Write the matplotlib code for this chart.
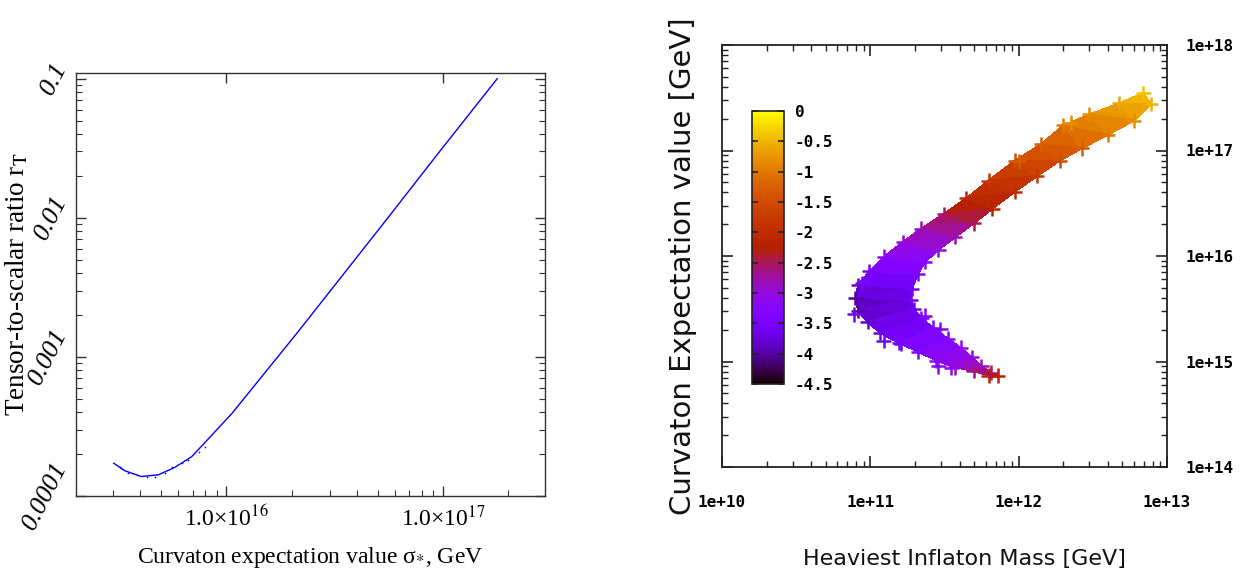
import numpy as np
import matplotlib
matplotlib.use("Agg")
import matplotlib.pyplot as plt
from matplotlib.tri import Triangulation

# ---- left panel: tensor-to-scalar ratio vs curvaton vev ----
sigma_line = [3.02e15, 3.39e15, 4.05e15, 4.85e15, 5.79e15, 6.92e15, 8.3e15,
              1.06e16, 2.13e16, 3.47e16, 5.65e16, 9.64e16, 1.78e17]
r_line = [1.72e-4, 1.52e-4, 1.38e-4, 1.42e-4, 1.61e-4, 1.92e-4, 2.6e-4,
          3.92e-4, 1.50e-3, 3.93e-3, 0.0103, 0.0299, 0.1]
sigma_dots = [3.21e15, 3.27e15, 3.52e15, 3.85e15, 4.28e15, 4.68e15, 5.2e15,
              5.59e15, 6.22e15, 6.68e15, 7.44e15, 7.98e15]
r_dots = [1.61e-4, 1.58e-4, 1.46e-4, 1.42e-4, 1.36e-4, 1.38e-4, 1.46e-4,
          1.61e-4, 1.72e-4, 1.82e-4, 2.08e-4, 2.26e-4]

left_yticks = [1e-4, 1e-3, 1e-2, 1e-1]
left_ylabels = ["0.0001", "0.001", "0.01", "0.1"]
left_xticks = [1e16, 1e17]
left_xlabels = [r"1.0×10$^{16}$", r"1.0×10$^{17}$"]

# ---- right panel: curvaton vev vs heaviest inflaton mass, colour = log value ----
mass_outer = [6.93e12, 4.76e12, 3.00e12, 2.00e12, 1.41e12, 9.42e11, 6.28e11, 4.44e11,
              3.13e11, 2.21e11, 1.66e11, 1.24e11, 9.84e10, 8.28e10, 7.91e10, 8.28e10,
              9.57e10, 1.17e11, 1.56e11, 2.09e11, 2.79e11, 3.73e11, 4.98e11, 6.28e11]
vev_outer = [3.51e17, 2.80e17, 2.20e17, 1.73e17, 1.14e17, 8.02e16, 5.19e16, 3.52e16,
             2.51e16, 1.82e16, 1.36e16, 9.86e15, 7.14e15, 5.31e15, 4.00e15, 3.02e15,
             2.37e15, 1.86e15, 1.50e15, 1.24e15, 1.02e15, 8.79e14, 8.11e14, 7.36e14]
val_outer = [-0.4, -0.6, -0.8, -1.0, -1.3, -1.5, -1.8, -2.1, -2.5, -2.8, -3.0, -3.2,
             -3.5, -3.8, -4.0, -4.0, -3.8, -3.7, -3.5, -3.4, -3.2, -3.0, -2.6, -2.2]

mass_inner = [7.80e12, 6.00e12, 4.00e12, 2.67e12, 1.89e12, 1.33e12, 9.42e11, 6.65e11,
              4.98e11, 3.73e11, 2.87e11, 2.34e11, 2.09e11, 1.91e11, 1.88e11, 1.97e11,
              2.21e11, 2.64e11, 3.32e11, 4.06e11, 4.84e11, 5.60e11, 6.46e11, 7.26e11]
vev_inner = [2.75e17, 1.92e17, 1.41e17, 1.05e17, 8.02e16, 5.71e16, 4.07e16, 2.81e16,
             2.04e16, 1.51e16, 1.14e16, 8.81e15, 6.76e15, 4.90e15, 3.85e15, 3.14e15,
             2.57e15, 2.10e15, 1.65e15, 1.35e15, 1.10e15, 9.02e14, 7.85e14, 7.36e14]
val_inner = [-0.5, -0.8, -1.0, -1.3, -1.5, -1.8, -2.0, -2.2, -2.5, -2.8, -3.0, -3.2,
             -3.3, -3.5, -3.6, -3.6, -3.5, -3.4, -3.3, -3.1, -3.0, -2.8, -2.5, -2.2]

mass_stray = [7.8e10, 8.77e10, 1.23e11, 1.61e11, 2.87e11, 3.52e11, 2.34e11, 2.96e11,
              9.98e11, 2.24e12]
vev_stray = [2.79e15, 5.52e15, 1.58e15, 1.46e15, 9.02e14, 8.65e14, 2.72e15, 2.02e15,
             7.9e16, 1.84e17]
val_stray = [-3.5, -3.4, -3.6, -3.5, -3.2, -3.1, -3.3, -3.3, -1.3, -0.8]

right_xticks = [1e10, 1e11, 1e12, 1e13]
right_xlabels = ["1e+10", "1e+11", "1e+12", "1e+13"]
right_yticks = [1e14, 1e15, 1e16, 1e17, 1e18]
right_ylabels = ["1e+14", "1e+15", "1e+16", "1e+17", "1e+18"]
cbar_ticks = [0, -0.5, -1, -1.5, -2, -2.5, -3, -3.5, -4, -4.5]
cbar_labels = ["0", "-0.5", "-1", "-1.5", "-2", "-2.5", "-3", "-3.5", "-4", "-4.5"]

plt.rcParams["mathtext.fontset"] = "stix"
W, H = 1245, 579
fig = plt.figure(figsize=(W / 100, H / 100), dpi=100)

def frac(x0, y0, x1, y1):
    return [x0 / W, 1 - y1 / H, (x1 - x0) / W, (y1 - y0) / H]

# ================= left =================
serif = "Liberation Serif"
ax1 = fig.add_axes(frac(76, 73, 545, 496))
ax1.set_xscale("log")
ax1.set_yscale("log")
ax1.plot(sigma_line, r_line, color="#0000ff", lw=1.0)
ax1.scatter(sigma_dots, r_dots, color="#0000ff", s=1.5, lw=0)
ax1.set_xlim(2.02e15, 2.96e17)
ax1.set_ylim(1e-4, 0.11)
for sp in ax1.spines.values():
    sp.set_color("#333333")
    sp.set_linewidth(1.0)
ax1.tick_params(which="both", direction="in", top=True, right=True, color="#333333")
ax1.tick_params(which="major", length=7, width=1)
ax1.tick_params(which="minor", length=4, width=0.8)
ax1.tick_params(axis="x", which="minor", top=False)
ax1.set_yticks(left_yticks, left_ylabels)
ax1.set_xticks(left_xticks, left_xlabels)
ax1.yaxis.set_minor_formatter(plt.NullFormatter())
ax1.xaxis.set_minor_formatter(plt.NullFormatter())
for lbl in ax1.get_yticklabels():
    lbl.set_rotation(63)
    lbl.set_ha("right")
    lbl.set_va("center")
    lbl.set_fontfamily(serif)
    lbl.set_fontstyle("italic")
    lbl.set_fontsize(19)
for lbl in ax1.get_xticklabels():
    lbl.set_fontfamily(serif)
    lbl.set_fontsize(17)
ax1.tick_params(axis="y", pad=3)
ax1.tick_params(axis="x", pad=7)
fig.text(17 / W, 0.51, r"Tensor-to-scalar ratio r$_{\mathrm{T}}$", rotation=90,
         ha="center", va="center", family=serif, fontsize=19.5)
fig.text(310 / W, 1 - 563 / H, r"Curvaton expectation value σ$_{*}$, GeV",
         ha="center", va="baseline", family=serif, fontsize=17)

# ================= right =================
mono = {"family": "DejaVu Sans Mono", "weight": "bold", "size": 11.5}
ax2 = fig.add_axes(frac(722, 45, 1167, 467))
ax2.set_xscale("log")
ax2.set_yscale("log")
n = len(mass_outer)
tris = [[i, i + 1, n + i] for i in range(n - 1)] + \
       [[i + 1, n + i + 1, n + i] for i in range(n - 1)]
band = Triangulation(mass_outer + mass_inner, vev_outer + vev_inner, tris)
mesh = ax2.tripcolor(band, val_outer + val_inner, cmap="gnuplot", vmin=-4.5, vmax=0,
                     shading="flat", edgecolors="face", linewidth=0.6,
                     antialiased=False)
ax2.scatter(mass_outer + mass_inner + mass_stray, vev_outer + vev_inner + vev_stray,
            c=val_outer + val_inner + val_stray, cmap="gnuplot", vmin=-4.5, vmax=0,
            marker="+", s=110, linewidths=1.8)
ax2.set_xlim(1e10, 1e13)
ax2.set_ylim(1e14, 1e18)
for sp in ax2.spines.values():
    sp.set_color("#222222")
    sp.set_linewidth(1.3)
ax2.tick_params(which="both", direction="in", top=True, right=True, left=True,
                labelleft=False, labelright=True, color="#222222")
ax2.tick_params(which="major", length=8, width=1.2)
ax2.tick_params(which="minor", length=4, width=1.0)
ax2.tick_params(axis="x", pad=20)
ax2.tick_params(axis="y", pad=13)
ax2.set_xticks(right_xticks, right_xlabels)
ax2.set_yticks(right_yticks, right_ylabels)
ax2.xaxis.set_minor_formatter(plt.NullFormatter())
ax2.yaxis.set_minor_formatter(plt.NullFormatter())
for lbl in ax2.get_xticklabels() + ax2.get_yticklabels():
    lbl.set_fontproperties(mono)
fig.text(683 / W, 1 - 266 / H, "Curvaton Expectation value [GeV]", rotation=90,
         ha="center", va="center", family="DejaVu Sans", fontsize=21, color="#111111")
fig.text(964 / W, 1 - 565 / H, "Heaviest Inflaton Mass [GeV]",
         ha="center", va="baseline", family="DejaVu Sans", fontsize=16, color="#111111")

cax = fig.add_axes(frac(752, 111, 784, 384))
cb = fig.colorbar(mesh, cax=cax)
cb.outline.set_linewidth(1.2)
cb.outline.set_edgecolor("#222222")
cb.set_ticks(cbar_ticks, labels=cbar_labels)
cax.tick_params(which="major", direction="in", length=4, width=1.2, left=True,
                right=True, color="#222222", pad=8)
cax.minorticks_off()
for lbl in cax.get_yticklabels():
    lbl.set_fontproperties(mono)

fig.savefig("out.png", dpi=100)
